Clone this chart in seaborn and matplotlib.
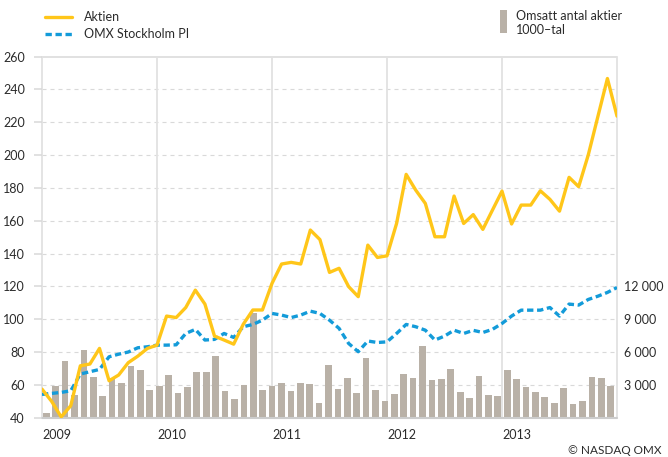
import numpy as np
import matplotlib
matplotlib.use("Agg")
import matplotlib.pyplot as plt
import seaborn as sns
from matplotlib.lines import Line2D
from matplotlib.patches import Rectangle

# --- data: monthly, Jan 2009 .. Jan 2014 (61 points) ---
years = ["2009", "2010", "2011", "2012", "2013"]

aktien = [57.4, 50.0, 40.5, 47.3, 71.6, 72.7, 82.2, 62.5, 66.0, 73.5, 77.5, 82.2,
          84.2, 101.9, 101.0, 107.1, 117.7, 109.2, 89.7, 87.3, 84.8, 96.9, 105.6, 105.6,
          121.8, 133.6, 134.6, 133.6, 154.3, 148.5, 128.5, 131.0, 119.8, 113.7, 145.1, 137.6,
          138.6, 158.3, 188.2, 178.6, 170.5, 150.2, 150.2, 175.0, 158.3, 163.7, 154.7, 166.4,
          178.0, 158.0, 169.5, 169.5, 178.2, 173.0, 165.8, 186.4, 180.7, 200.0, 223.3, 246.6, 223.7]

omx = [54.2, 54.8, 55.4, 56.4, 66.6, 68.0, 69.4, 77.1, 78.7, 80.0, 82.6, 83.2,
       84.2, 84.2, 84.4, 91.3, 93.8, 87.3, 87.7, 91.3, 88.9, 95.4, 96.8, 99.4,
       103.5, 102.5, 101.0, 102.5, 104.9, 103.5, 99.4, 94.4, 85.2, 80.2, 86.7, 85.8,
       86.2, 91.3, 96.8, 95.4, 93.3, 87.3, 89.7, 93.3, 91.3, 93.2, 91.9, 93.8,
       97.4, 101.9, 105.5, 105.5, 105.5, 107.1, 101.9, 109.2, 108.6, 112.0, 114.0, 116.3, 119.3]

# traded volume, thousands of shares
volume = [430, 2930, 5170, 2110, 6140, 3730, 1990, 3610, 3180, 4710, 4350, 2510,
          2880, 3890, 2290, 2840, 4220, 4160, 5660, 2420, 1690, 3030, 9570, 2510,
          2930, 3150, 2420, 3150, 3060, 1350, 4860, 2630, 3670, 2240, 5470, 2540,
          1560, 2200, 3980, 3610, 6570, 3480, 3580, 4440, 2380, 1780, 3800, 2080,
          2020, 4370, 3580, 2790, 2330, 1900, 1320, 2700, 1260, 1500, 3730, 3640, 2910]

YEL = "#FFC619"
BLUE = "#139BD9"
BAR = "#B9B1A7"
GRID = "#D9D9D9"
VLINE = "#E2E2E2"
TXT = "#2B2B2B"

sns.set_style("white")
plt.rcParams["font.family"] = ["Lato", "DejaVu Sans"]
plt.rcParams["font.size"] = 9

W, H = 668, 457
fig = plt.figure(figsize=(W / 100, H / 100), dpi=100)

def fx(px):
    return px / W

def fy(py):
    return 1 - py / H

ax = fig.add_axes([fx(42), fy(417.7), 575 / W, 361.2 / H])
ax2 = ax.twinx()
ax.set_zorder(ax2.get_zorder() + 1)
ax.patch.set_visible(False)

months = np.arange(len(aktien))
bar_x = np.linspace(0.45, 59.34, len(volume))

# grid (behind the bars)
for v in range(3000, 30001, 3000):
    ax2.axhline(v, color=GRID, lw=0.8, ls=(0, (3.6, 3.6)), zorder=0)
ax2.axhline(33000, color=GRID, lw=1.1, zorder=0, clip_on=False)
for m in range(0, 61, 12):
    ax2.axvline(m, color=VLINE, lw=1.3, zorder=0, clip_on=False)

sns.barplot(x=bar_x, y=volume, ax=ax2, native_scale=True, orient="x",
            color=BAR, width=0.71, errorbar=None, linewidth=0, saturation=1, zorder=2)
ax2.axhline(0, color="#CCCCCC", lw=1.5, zorder=3, clip_on=False)

sns.lineplot(x=months, y=omx, ax=ax, color=BLUE, linewidth=2.4,
             linestyle=(0, (1.9, 1.1)))
sns.lineplot(x=months, y=aktien, ax=ax, color=YEL, linewidth=2.4)

ax.set_xlim(0, 60)
ax.set_ylim(40, 260)
ax2.set_ylim(0, 33000)

ax.set_yticks(range(40, 261, 20))
ax.tick_params(axis="y", length=5.8, width=1.1, color=GRID, labelcolor=TXT, pad=6.5, labelsize=9)
ax.set_xticks([0, 12, 24, 36, 48])
ax.set_xticklabels(years, ha="left")
ax.tick_params(axis="x", length=0, pad=8, labelcolor=TXT, labelsize=9)

ax2.set_yticks([3000, 6000, 9000, 12000])
ax2.set_yticklabels(["3 000", "6 000", "9 000", "12 000"])
ax2.tick_params(axis="y", length=0, pad=5, labelcolor=TXT, labelsize=9)

for a in (ax, ax2):
    a.set_xlabel("")
    a.set_ylabel("")
    for s in a.spines.values():
        s.set_visible(False)

# legend
fig.add_artist(Line2D([fx(45), fx(72)], [fy(17), fy(17)], transform=fig.transFigure,
                      color=YEL, lw=2.4))
fig.add_artist(Line2D([fx(45), fx(72)], [fy(34), fy(34)], transform=fig.transFigure,
                      color=BLUE, lw=2.4, ls=(0, (1.9, 1.1))))
fig.text(fx(84), fy(17), "Aktien", va="center", color=TXT, fontsize=9)
fig.text(fx(84), fy(34), "OMX Stockholm PI", va="center", color=TXT, fontsize=9)
fig.add_artist(Rectangle((fx(500), fy(33)), 7 / W, 23 / H, transform=fig.transFigure,
                         color=BAR, lw=0))
fig.text(fx(516), fy(16), "Omsatt antal aktier", va="center", color=TXT, fontsize=9)
fig.text(fx(516), fy(30), "1000\u2013tal", va="center", color=TXT, fontsize=9)

fig.text(fx(661), fy(451), "\u00a9 NASDAQ OMX", ha="right", va="center", color=TXT, fontsize=8.5)

fig.savefig("out.png", dpi=100)
